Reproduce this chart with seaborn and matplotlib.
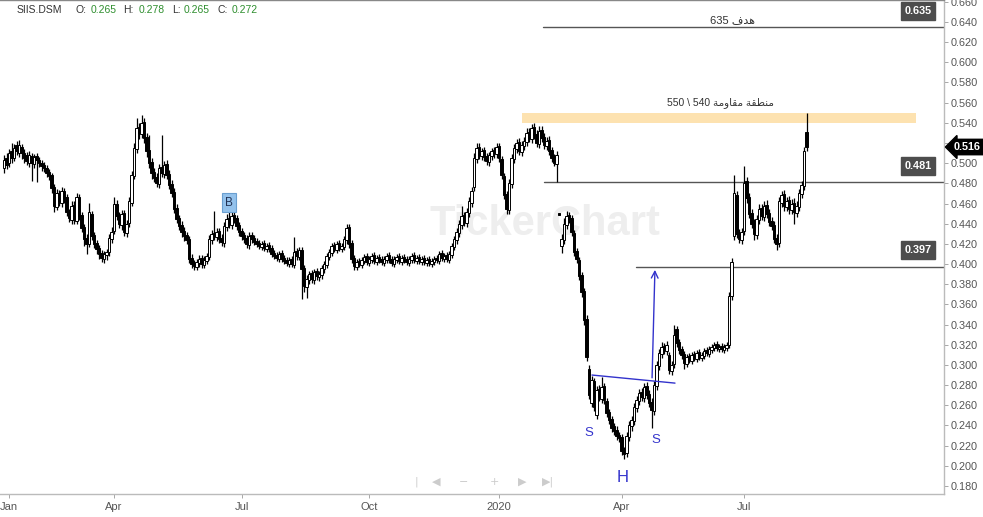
import numpy as np
import pandas as pd
import matplotlib
matplotlib.use("Agg")
import matplotlib.pyplot as plt
import seaborn as sns

# ---------------- data (prices in thousandths) ----------------
opens = [
495, 505, 500, 512, 505, 518, 510, 516, 510, 508,
500, 507, 499, 507, 503, 500, 498, 495, 491, 488,
476, 457, 470, 461, 472, 466, 452, 444, 459, 443,
466, 449, 437, 426, 420, 450, 429, 421, 416, 411,
405, 409, 412, 425, 433, 460, 449, 439, 451, 431,
441, 461, 487, 514, 536, 529, 541, 526, 513, 501,
491, 486, 479, 496, 489, 499, 489, 479, 471, 456,
446, 439, 433, 429, 425, 406, 401, 397, 401, 406,
399, 403, 407, 424, 431, 427, 433, 426, 421, 437,
446, 439, 449, 446, 439, 433, 429, 426, 419, 429,
426, 423, 421, 417, 421, 415, 419, 416, 411, 409,
405, 411, 406, 404, 400, 405, 399, 413, 407, 414,
396, 377, 384, 391, 384, 393, 387, 389, 395, 399,
407, 411, 419, 414, 421, 415, 417, 424, 437, 421,
406, 397, 403, 399, 403, 408, 401, 404, 409, 402,
407, 405, 401, 404, 409, 405, 400, 404, 408, 402,
407, 405, 401, 404, 409, 403, 407, 402, 406, 401,
405, 400, 402, 406, 403, 411, 405, 409, 404, 409,
417, 424, 431, 439, 449, 441, 451, 461, 476, 504,
516, 507, 513, 507, 501, 507, 513, 509, 517, 504,
487, 469, 454, 479, 504, 514, 521, 511, 517, 521,
531, 524, 536, 529, 519, 533, 526, 517, 523, 513,
506, 499, 450, 418, 424, 439, 449, 446, 431, 413,
404, 389, 373, 346, 296, 262, 284, 250, 276, 266,
279, 264, 253, 246, 239, 236, 231, 229, 216, 213,
229, 239, 244, 257, 264, 273, 267, 279, 271, 263,
254, 279, 299, 311, 319, 314, 310, 294, 301, 336,
323, 316, 311, 301, 309, 304, 311, 306, 313, 307,
309, 315, 311, 315, 317, 321, 316, 319, 315, 317,
320, 368, 428, 468, 431, 424, 433, 482, 466, 451,
441, 429, 444, 456, 447, 459, 451, 443, 439, 426,
421, 461, 469, 457, 463, 454, 461, 451, 457, 469,
477, 531]

highs = [
508, 510, 514, 520, 519, 522, 523, 519, 514, 511,
512, 510, 509, 510, 506, 503, 501, 498, 494, 490,
479, 474, 473, 476, 475, 469, 455, 462, 462, 470,
469, 452, 440, 430, 461, 453, 432, 424, 419, 414,
413, 415, 430, 437, 466, 463, 452, 454, 454, 444,
466, 492, 520, 545, 540, 548, 545, 530, 528, 505,
495, 490, 499, 528, 502, 503, 493, 483, 475, 460,
449, 443, 437, 432, 428, 410, 404, 405, 409, 409,
408, 411, 429, 434, 453, 436, 436, 430, 442, 450,
452, 454, 453, 449, 442, 436, 432, 429, 432, 432,
429, 426, 424, 423, 424, 421, 422, 419, 414, 412,
413, 414, 409, 407, 407, 408, 427, 416, 417, 417,
399, 389, 393, 394, 395, 396, 393, 399, 403, 411,
415, 421, 422, 423, 424, 421, 428, 440, 440, 424,
409, 405, 406, 407, 410, 411, 408, 411, 412, 409,
410, 408, 408, 411, 412, 408, 408, 410, 411, 409,
410, 408, 408, 411, 412, 409, 410, 408, 409, 407,
408, 406, 408, 409, 413, 414, 411, 412, 413, 421,
428, 436, 444, 458, 452, 456, 466, 476, 510, 520,
520, 515, 516, 510, 511, 515, 516, 520, 520, 507,
490, 472, 484, 509, 519, 524, 525, 522, 526, 535,
535, 539, 540, 533, 537, 537, 530, 526, 527, 516,
509, 512, 450, 430, 446, 453, 452, 449, 434, 416,
407, 392, 376, 350, 300, 289, 287, 279, 280, 288,
282, 267, 256, 249, 242, 239, 234, 232, 219, 234,
244, 249, 262, 269, 276, 277, 282, 283, 275, 267,
284, 304, 316, 323, 322, 324, 313, 304, 340, 339,
326, 319, 314, 311, 312, 313, 314, 315, 316, 313,
317, 318, 319, 321, 323, 324, 321, 322, 321, 323,
372, 406, 488, 472, 435, 436, 497, 486, 470, 455,
445, 449, 460, 460, 462, 463, 455, 447, 443, 430,
466, 472, 473, 466, 467, 464, 465, 462, 474, 482,
516, 550]

lows = [
490, 494, 496, 500, 502, 508, 506, 504, 500, 498,
496, 482, 495, 481, 496, 492, 491, 486, 483, 470,
452, 454, 458, 457, 461, 448, 442, 440, 440, 440,
444, 432, 418, 410, 417, 424, 416, 410, 405, 402,
401, 404, 408, 421, 430, 444, 436, 434, 428, 427,
437, 458, 484, 510, 524, 525, 520, 506, 495, 484,
481, 476, 475, 486, 485, 484, 474, 466, 451, 441,
434, 427, 423, 420, 401, 396, 394, 394, 397, 396,
396, 400, 404, 420, 424, 423, 421, 418, 417, 433,
436, 435, 441, 434, 428, 424, 421, 416, 415, 421,
419, 417, 415, 414, 413, 412, 412, 407, 405, 403,
402, 402, 400, 398, 397, 397, 396, 404, 404, 365,
372, 366, 380, 381, 380, 384, 383, 385, 391, 396,
404, 408, 412, 411, 413, 412, 414, 420, 416, 401,
394, 394, 397, 396, 400, 399, 398, 401, 400, 399,
401, 399, 398, 401, 401, 398, 397, 401, 400, 399,
401, 399, 398, 401, 401, 400, 400, 399, 399, 398,
398, 397, 399, 401, 400, 403, 402, 402, 401, 406,
414, 420, 427, 435, 438, 437, 447, 457, 472, 500,
504, 503, 502, 498, 497, 503, 505, 505, 501, 484,
464, 450, 450, 475, 500, 510, 508, 507, 513, 517,
521, 520, 524, 516, 515, 521, 514, 513, 508, 501,
497, 481, 449, 411, 420, 435, 441, 428, 408, 401,
384, 367, 340, 304, 266, 258, 254, 246, 264, 262,
261, 248, 241, 234, 231, 226, 224, 211, 207, 209,
225, 235, 240, 253, 260, 264, 263, 266, 258, 238,
250, 275, 295, 307, 311, 310, 291, 290, 297, 318,
311, 306, 296, 298, 302, 301, 304, 303, 305, 304,
306, 309, 308, 312, 314, 314, 313, 313, 312, 314,
317, 364, 424, 426, 421, 420, 429, 461, 446, 436,
424, 425, 440, 444, 443, 446, 438, 434, 421, 414,
417, 457, 453, 453, 450, 450, 440, 447, 453, 465,
473, 512]

closes = [
503, 498, 510, 505, 515, 512, 518, 510, 505, 502,
508, 500, 506, 503, 500, 497, 495, 490, 487, 475,
458, 470, 462, 472, 465, 452, 446, 458, 444, 466,
448, 436, 425, 420, 452, 428, 420, 415, 410, 406,
410, 412, 426, 432, 460, 448, 440, 450, 432, 440,
462, 488, 515, 535, 530, 540, 525, 512, 500, 490,
485, 480, 495, 490, 498, 488, 478, 470, 455, 445,
438, 432, 428, 424, 405, 400, 398, 402, 405, 400,
404, 408, 425, 430, 428, 432, 425, 422, 438, 445,
440, 448, 445, 438, 432, 428, 425, 420, 428, 425,
422, 420, 418, 420, 416, 418, 415, 410, 408, 406,
410, 405, 403, 401, 404, 400, 412, 408, 414, 395,
378, 385, 390, 385, 392, 388, 390, 396, 400, 408,
412, 418, 415, 420, 416, 418, 425, 436, 420, 405,
398, 402, 400, 404, 407, 402, 405, 408, 403, 406,
404, 402, 405, 408, 404, 401, 405, 407, 403, 406,
404, 402, 405, 408, 404, 406, 403, 405, 402, 404,
401, 403, 405, 404, 410, 406, 408, 405, 410, 418,
425, 432, 440, 448, 442, 452, 462, 472, 505, 515,
508, 512, 506, 502, 508, 512, 510, 516, 505, 488,
468, 455, 480, 505, 515, 520, 512, 518, 522, 530,
525, 535, 528, 520, 532, 525, 518, 522, 512, 505,
500, 508, 449, 425, 440, 448, 445, 432, 412, 405,
388, 372, 345, 308, 270, 285, 258, 275, 268, 278,
265, 252, 245, 238, 235, 230, 228, 215, 212, 230,
240, 245, 258, 265, 272, 268, 278, 270, 262, 255,
280, 300, 312, 318, 315, 320, 295, 300, 330, 322,
315, 310, 302, 308, 305, 310, 307, 312, 308, 310,
314, 312, 316, 318, 320, 317, 318, 316, 318, 320,
368, 402, 470, 430, 425, 432, 480, 465, 450, 440,
430, 445, 455, 448, 458, 450, 442, 438, 425, 420,
462, 468, 458, 462, 455, 460, 452, 458, 470, 478,
512, 516]

# bar index of the first session of each labelled month
month_start_idx = [2, 44, 95, 146, 198, 247, 296]
month_labels = ["Jan", "Apr", "Jul", "Oct", "2020", "Apr", "Jul"]

y_ticks = [0.18 + 0.02 * k for k in range(25)]

level_values = [0.635, 0.481, 0.397]
last_price = 0.516
resistance_zone = (0.540, 0.550)

header = [("SIIS.DSM", None), ("O:", 0.265), ("H:", 0.278), ("L:", 0.265), ("C:", 0.272)]

# ---------------- figure ----------------
sns.set_theme(style="white")
plt.rcParams["font.family"] = ["Liberation Sans", "DejaVu Sans"]

W, H = 983, 517
fig = plt.figure(figsize=(W / 100, H / 100), dpi=100)
ax = fig.add_axes([0, 23 / H, 944 / W, 494 / H])

df = pd.DataFrame({"open": opens, "high": highs, "low": lows, "close": closes}) / 1000.0
df["i"] = np.arange(len(df))
up = df["close"] > df["open"]

# wicks
ax.vlines(df["i"], df["low"], df["high"], color="black", lw=0.9, zorder=3)
# bodies
body_bottom = np.minimum(df["open"], df["close"])
body_h = np.maximum((df["close"] - df["open"]).abs(), 0.0012)
ax.bar(df["i"], body_h, bottom=body_bottom, width=1.0,
       color=np.where(up, "white", "black"), edgecolor="black",
       linewidth=0.7, zorder=4)

x_left, x_right = -1.6, 376
ax.set_xlim(x_left, x_right)
ax.set_ylim(0.1721, 0.6617)

def xd(px):
    # pixel column -> bar-index coordinate
    return x_left + (px / 944.0) * (x_right - x_left)

# axes styling
ax.yaxis.tick_right()
ax.set_yticks(y_ticks)
# the 0.520 label sits under the last-price marker in the reference
ax.set_yticklabels(["" if abs(v - 0.52) < 1e-9 else f"{v:.3f}" for v in y_ticks])
ax.tick_params(axis="y", which="both", right=True, left=False, length=3, width=0.6,
               color="#999999", labelsize=7.8, labelcolor="#555555", pad=2)
ax.set_xticks(month_start_idx)
ax.set_xticklabels(month_labels)
ax.tick_params(axis="x", bottom=True, length=3, width=0.6, color="#999999",
               labelsize=8, labelcolor="#555555", pad=3)
for lab in ax.get_xticklabels():
    lab.set_family(["Liberation Sans Narrow", "Liberation Sans", "DejaVu Sans"])
ax.spines["left"].set_visible(False)
ax.spines["right"].set_color("#bbbbbb")
ax.spines["bottom"].set_color("#bbbbbb")
ax.spines["top"].set_color("#888888")
for s in ["right", "bottom", "top"]:
    ax.spines[s].set_linewidth(1.0)
ax.grid(False)

# watermark
ax.text(xd(545), 0.44, "TickerChart", fontsize=30, fontweight="bold",
        color="#eeeeee", ha="center", va="center", zorder=1)

# resistance zone
ax.fill_between([xd(522), xd(916)], resistance_zone[0], resistance_zone[1],
                color="#fde2b0", lw=0, zorder=2)

# horizontal levels
level_start_px = [543, 544, 636]
label_y = [0.651, 0.497, 0.414]
ytr = ax.get_yaxis_transform()
for val, spx, ly in zip(level_values, level_start_px, label_y):
    ax.plot([xd(spx), x_right], [val, val], color="#555555", lw=1.0, zorder=2)
    ax.text(918 / 944, ly, f"{val:.3f}", transform=ytr, ha="center", va="center",
            fontsize=7.8, fontweight="bold", color="white", zorder=6,
            bbox=dict(boxstyle="square,pad=0.35", fc="#4d4d4d", ec="#4d4d4d"))

# arabic notes (visual order, presentation forms)
ax.text(xd(732), 0.642, "635 \ufed1\ufeaa\ufeeb", ha="center", va="center",
        fontsize=8, color="#333333", family=["Liberation Sans", "DejaVu Sans"], zorder=6)
ax.text(xd(720), 0.5596,
        "550 \\ 540 \ufe94\ufee3\ufeed\ufe8e\ufed8\ufee3 \ufe94\ufed8\ufec4\ufee8\ufee3",
        ha="center", va="center", fontsize=7.5, color="#333333",
        family=["Liberation Sans", "DejaVu Sans"], zorder=6)

# last price marker
ax.text(1.0105, last_price, f"{last_price:.3f}", transform=ytr, ha="left", va="center",
        fontsize=7.8, fontweight="bold", color="white", zorder=10, clip_on=False,
        bbox=dict(boxstyle="larrow,pad=0.25", fc="black", ec="black"))

# head & shoulders annotations
blue = "#3333cc"
ax.plot([xd(592), xd(675)], [0.290, 0.282], color=blue, lw=1.0, zorder=5)
ax.annotate("", xy=(xd(655), 0.397), xytext=(xd(652), 0.2845),
            arrowprops=dict(arrowstyle="->", color=blue, lw=1.0,
                            mutation_scale=12), zorder=5)
ax.text(xd(589), 0.2325, "S", color=blue, fontsize=9.5, ha="center", va="center", zorder=6)
ax.text(xd(656), 0.2256, "S", color=blue, fontsize=9.5, ha="center", va="center", zorder=6)
ax.text(xd(623), 0.188, "H", color=blue, fontsize=12, ha="center", va="center", zorder=6)
ax.text(xd(229), 0.461, "B", color="#223355", fontsize=8.5, ha="center", va="center",
        zorder=6, bbox=dict(boxstyle="square,pad=0.3", fc="#94c2ec", ec="#6a9fd0", lw=0.8))

# navigation glyphs
for gx, g in zip([416, 436, 464, 494, 522, 548], ["|", "\u25c0", "\u2212", "+", "\u25b6", "\u25b6|"]):
    fig.text(gx / W, 1 - 482 / H, g, fontsize=8, color="#cccccc", ha="center",
             va="center", family=["DejaVu Sans"])

# header
hx = [17, 76, 123, 172, 217]
vx = [None, 91, 139, 184, 232]
for (lab, val), lx, vxx in zip(header, hx, vx):
    fig.text(lx / W, 1 - 10 / H, lab, fontsize=7.5, color="#333333", ha="left", va="center")
    if val is not None:
        fig.text(vxx / W, 1 - 10 / H, f"{val:.3f}", fontsize=7.5, color="#2f8f2f",
                 ha="left", va="center")

fig.savefig("out.png", dpi=100, facecolor="white")
